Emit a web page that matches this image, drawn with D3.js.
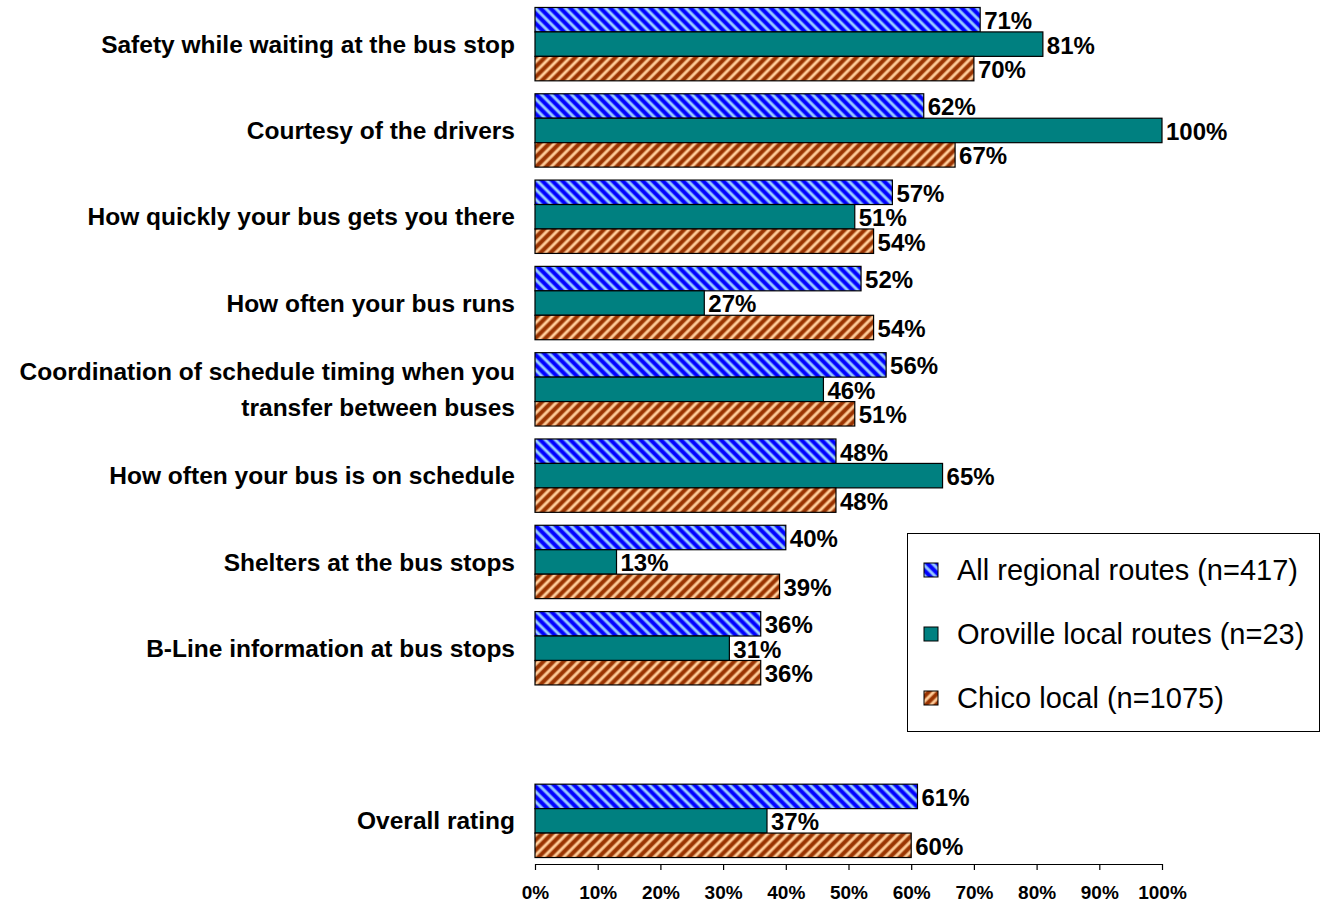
<!DOCTYPE html>
<html>
<head>
<meta charset="utf-8">
<script src="https://cdn.jsdelivr.net/npm/d3@7"></script>
<style>
  html, body { margin: 0; padding: 0; background: #fff; }
  svg { display: block; }
  text { font-family: "Liberation Sans", Arial, sans-serif; }
</style>
</head>
<body>
<svg id="chart" width="1327" height="905"></svg>
<script>
// Survey categories (top to bottom); a blank spacer row sits before the overall rating
const categories = [
  ["Safety while waiting at the bus stop"],
  ["Courtesy of the drivers"],
  ["How quickly your bus gets you there"],
  ["How often your bus runs"],
  ["Coordination of schedule timing when you", "transfer between buses"],
  ["How often your bus is on schedule"],
  ["Shelters at the bus stops"],
  ["B-Line information at bus stops"],
  null,
  ["Overall rating"]
];

const seriesNames = [
  "All regional routes (n=417)",
  "Oroville local routes (n=23)",
  "Chico local (n=1075)"
];

// Percent values per series, same order as categories (null for spacer)
const regional = [71, 62, 57, 52, 56, 48, 40, 36, null, 61];
const oroville = [81, 100, 51, 27, 46, 65, 13, 31, null, 37];
const chico    = [70, 67, 54, 54, 51, 48, 39, 36, null, 60];

const tickValues = [0, 10, 20, 30, 40, 50, 60, 70, 80, 90, 100];

const svg = d3.select("#chart");
const defs = svg.append("defs");

// Diagonal stripe fills
function stripePattern(id, bg, fg, angle) {
  const p = defs.append("pattern")
    .attr("id", id)
    .attr("patternUnits", "userSpaceOnUse")
    .attr("width", 7.1).attr("height", 7.1)
    .attr("patternTransform", `rotate(${angle})`);
  p.append("rect").attr("width", 7.1).attr("height", 7.1).attr("fill", bg);
  p.append("rect").attr("x", 1.6).attr("width", 3.9).attr("height", 7.1)
    .attr("fill", fg).attr("opacity", 0.45);
  p.append("rect").attr("x", 2.4).attr("width", 2.3).attr("height", 7.1)
    .attr("fill", fg);
}
stripePattern("hatchBlue", "#0000ff", "#99ccff", -45);
stripePattern("hatchBrown", "#993300", "#ffcc99", 45);

const fills = ["url(#hatchBlue)", "#008080", "url(#hatchBrown)"];
const series = [regional, oroville, chico];

const x = d3.scaleLinear().domain([0, 100]).range([535, 1162]);
const y = d3.scaleBand()
  .domain(d3.range(categories.length))
  .range([1, 864])
  .paddingInner(0.15)
  .paddingOuter(0.075);
const ySub = d3.scaleBand()
  .domain(d3.range(series.length))
  .range([0, y.bandwidth()]);

// Category labels
const labelG = svg.append("g");
categories.forEach((lines, i) => {
  if (!lines) return;
  const cy = y(i) + y.bandwidth() / 2;
  const lh = 36;
  const t = labelG.append("text")
    .attr("x", 515)
    .attr("text-anchor", "end")
    .attr("font-weight", "bold")
    .attr("font-size", 24.5)
    .attr("fill", "#000");
  lines.forEach((ln, k) => {
    t.append("tspan")
      .attr("x", 515)
      .attr("y", cy + (k - (lines.length - 1) / 2) * lh)
      .attr("dy", "0.35em")
      .text(ln);
  });
});

// Bars and value labels
const barG = svg.append("g");
series.forEach((vals, s) => {
  vals.forEach((v, i) => {
    if (v == null) return;
    const by = y(i) + ySub(s);
    barG.append("rect")
      .attr("x", x(0))
      .attr("y", by)
      .attr("width", x(v) - x(0))
      .attr("height", ySub.bandwidth())
      .attr("fill", fills[s])
      .attr("stroke", "#000")
      .attr("stroke-width", 1.2);
    barG.append("text")
      .attr("x", x(v) + 4)
      .attr("y", by + ySub.bandwidth() / 2 + 1)
      .attr("dy", "0.35em")
      .attr("font-weight", "bold")
      .attr("font-size", 24)
      .text(v + "%");
  });
});

// Bottom axis
const axis = d3.axisBottom(x)
  .tickValues(tickValues)
  .tickFormat(d => d + "%")
  .tickSize(6)
  .tickSizeOuter(0);
const axG = svg.append("g")
  .attr("transform", "translate(0,864)")
  .call(axis);
axG.select(".domain").attr("stroke", "#000").attr("stroke-width", 1.2);
axG.selectAll(".tick line").attr("stroke", "#000").attr("stroke-width", 1.2);
axG.selectAll(".tick text")
  .attr("y", 22)
  .attr("font-family", "'Liberation Sans', Arial, sans-serif")
  .attr("font-weight", "bold")
  .attr("font-size", 19)
  .attr("fill", "#000");

// Legend
const lg = svg.append("g").attr("transform", "translate(907,533)");
lg.append("rect")
  .attr("x", 0.5).attr("y", 0.5)
  .attr("width", 412).attr("height", 198)
  .attr("fill", "#fff")
  .attr("stroke", "#000")
  .attr("stroke-width", 1);
seriesNames.forEach((name, s) => {
  const cy = 37 + s * 64;
  lg.append("rect")
    .attr("x", 17).attr("y", cy - 7)
    .attr("width", 14).attr("height", 14)
    .attr("fill", fills[s])
    .attr("stroke", "#000")
    .attr("stroke-width", 1);
  lg.append("text")
    .attr("x", 50)
    .attr("y", cy)
    .attr("dy", "0.35em")
    .attr("font-size", 29)
    .text(name);
});
</script>
</body>
</html>
